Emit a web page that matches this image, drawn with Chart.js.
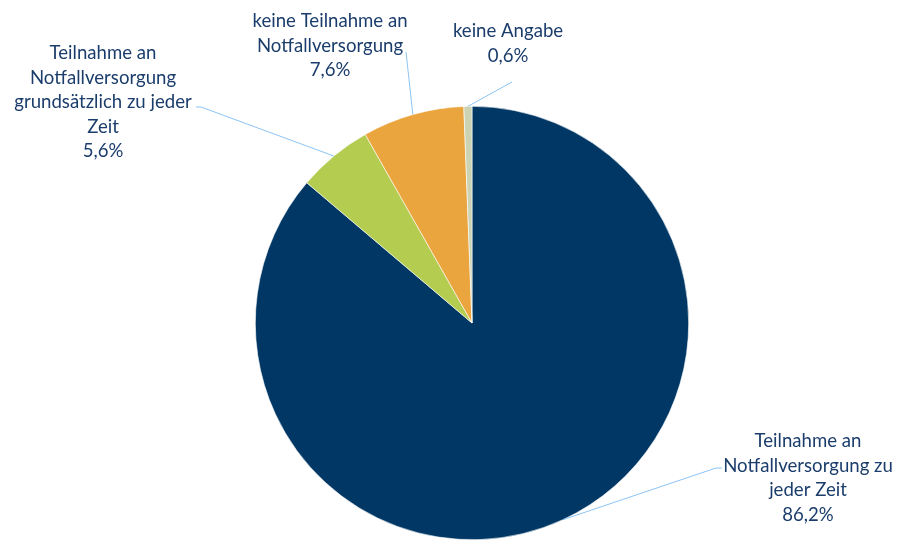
<!DOCTYPE html>
<html>
<head>
<meta charset="utf-8">
<script src="https://cdn.jsdelivr.net/npm/chart.js@4/dist/chart.umd.min.js"></script>
<style>
  html, body { margin: 0; padding: 0; background: #fff; }
  #wrap { width: 898px; height: 540px; }
</style>
</head>
<body>
<div id="wrap"><canvas id="pie"></canvas></div>
<script>
// ===========================
// Data
// ===========================
const labels = [
  "Teilnahme an Notfallversorgung zu jeder Zeit",
  "Teilnahme an Notfallversorgung grundsätzlich zu jeder Zeit",
  "keine Teilnahme an Notfallversorgung",
  "keine Angabe"
];
const values = [86.2, 5.6, 7.6, 0.6];
const sliceColors = ["#003764", "#b4cc50", "#eba53e", "#cbd3b3"];

// label text lines, as wrapped in the original
const labelLines = [
  ["Teilnahme an", "Notfallversorgung zu", "jeder Zeit"],
  ["Teilnahme an", "Notfallversorgung", "grundsätzlich zu jeder", "Zeit"],
  ["keine Teilnahme an", "Notfallversorgung"],
  ["keine Angabe"]
];

// where each label block sits (center x, first line y) and where its leader line ends
const labelPos = [
  {x: 808, y: 441, ex: 722, ey: 468, hx: 716},
  {x: 103, y: 53, ex: 196, ey: 107, hx: 201},
  {x: 330, y: 21, ex: 406, ey: 52, hx: null},
  {x: 508, y: 31, ex: 512, ey: 82, hx: null}
];

// ===========================
// Label plugin
// ===========================
const fmt = v => v.toFixed(1).replace(".", ",") + "%";

const outsideLabels = {
  id: "outsideLabels",
  afterDatasetsDraw(chart) {
    const ctx = chart.ctx;
    const arcs = chart.getDatasetMeta(0).data;
    ctx.save();
    arcs.forEach((arc, i) => {
      const p = labelPos[i];
      const mid = (arc.startAngle + arc.endAngle) / 2;
      const sx = arc.x + Math.cos(mid) * arc.outerRadius;
      const sy = arc.y + Math.sin(mid) * arc.outerRadius;
      // leader line
      ctx.strokeStyle = "#8cc4f4";
      ctx.lineWidth = 1;
      ctx.beginPath();
      ctx.moveTo(sx, sy);
      if (p.hx !== null) {
        ctx.lineTo(p.hx, p.ey);
      }
      ctx.lineTo(p.ex, p.ey);
      ctx.stroke();
      // text
      ctx.fillStyle = "#1b3d6b";
      ctx.font = "18.6px Lato, 'Open Sans', sans-serif";
      ctx.textAlign = "center";
      ctx.textBaseline = "middle";
      const lines = labelLines[i].concat([fmt(values[i])]);
      lines.forEach((t, k) => ctx.fillText(t, p.x, p.y + k * 24.6));
    });
    ctx.restore();
  }
};

// ===========================
// Chart
// ===========================
new Chart(document.getElementById("pie"), {
  type: "pie",
  data: {
    labels: labels,
    datasets: [{
      data: values,
      backgroundColor: sliceColors,
      borderColor: "#ffffff",
      borderWidth: 0.6
    }]
  },
  options: {
    responsive: true,
    maintainAspectRatio: false,
    animation: false,
    layout: { padding: { top: 106, bottom: 0, left: 255, right: 209 } },
    plugins: {
      legend: { display: false },
      tooltip: { enabled: false }
    }
  },
  plugins: [outsideLabels]
});
</script>
</body>
</html>
